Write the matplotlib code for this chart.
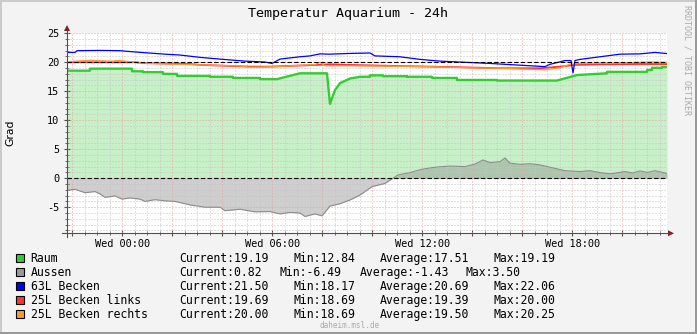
import matplotlib
matplotlib.use('Agg')
import matplotlib.pyplot as plt
import numpy as np
from matplotlib.patches import Polygon, Rectangle
from matplotlib.lines import Line2D
from matplotlib.ticker import MultipleLocator, FuncFormatter

# ---------------- data (hours relative to Wed 00:00) ----------------
t_raum = [-2.21, -1.29, -1.29, 0.39, 0.39, 0.83, 0.83, 1.63, 1.63, 2.19, 2.19, 3.51, 3.51,
          4.43, 4.43, 5.51, 5.51, 6.19, 7.11, 8.19, 8.31, 8.51, 8.71, 8.91, 9.11, 9.51,
          9.91, 9.91, 10.43, 10.43, 11.39, 11.39, 12.39, 12.39, 13.39, 13.39, 14.99, 14.99,
          17.39, 18.19, 19.39, 19.39, 20.99, 20.99, 21.19, 21.19, 21.59, 21.59, 21.79]
raum = [18.55, 18.55, 18.9, 18.9, 18.45, 18.45, 18.3, 18.3, 18.0, 18.0, 17.65, 17.65, 17.5,
        17.5, 17.3, 17.3, 17.1, 17.1, 18.1, 18.1, 12.84, 15.2, 16.4, 16.8, 17.2, 17.5,
        17.5, 17.75, 17.75, 17.6, 17.6, 17.5, 17.5, 17.3, 17.3, 16.95, 16.95, 16.85,
        16.85, 17.8, 18.1, 18.35, 18.35, 18.67, 18.67, 19.05, 19.05, 19.19, 19.19]

t_aussen = [-2.21, -1.89, -1.49, -1.09, -0.89, -0.69, -0.29, -0.01, 0.31, 0.71, 0.91, 1.31,
            1.71, 2.11, 2.71, 3.31, 3.91, 4.11, 4.71, 5.31, 5.91, 6.31, 6.71, 7.11, 7.31,
            7.71, 7.99, 8.31, 8.71, 9.11, 9.51, 9.99, 10.51, 11.03, 11.51, 11.99, 12.51,
            13.11, 13.71, 14.11, 14.43, 14.71, 15.11, 15.31, 15.51, 15.91, 16.31, 16.71,
            17.31, 17.71, 18.31, 18.71, 19.11, 19.51, 20.11, 20.41, 20.71, 21.01, 21.31, 21.79]
aussen = [-2.1, -1.9, -2.5, -2.3, -2.7, -3.3, -3.05, -3.6, -3.4, -3.6, -4.0, -3.7,
          -3.9, -4.0, -4.6, -5.0, -5.0, -5.6, -5.35, -5.8, -5.75, -6.15, -5.9, -6.0, -6.6,
          -6.15, -6.49, -4.8, -4.4, -3.75, -2.9, -1.45, -0.9, 0.57, 0.97, 1.55, 1.9,
          2.1, 2.0, 2.45, 3.15, 2.7, 2.85, 3.5, 2.6, 2.4, 2.5, 2.3,
          1.7, 1.3, 1.15, 1.3, 0.97, 0.75, 1.15, 0.9, 1.25, 1.0, 1.3, 0.82]

t_63l = [-2.21, -1.89, -1.81, -0.89, -0.09, 0.31, 0.91, 1.71, 2.31, 3.11, 3.91, 4.91,
         5.71, 5.99, 6.31, 7.11, 7.51, 7.91, 8.31, 8.91, 9.31, 9.91, 10.11, 11.11, 11.91,
         12.71, 13.71, 14.71, 15.91, 16.91, 17.11, 17.71, 17.95, 18.03, 18.11, 18.31,
         19.11, 19.91, 20.71, 21.31, 21.79]
becken63 = [21.7, 21.7, 22.0, 22.05, 22.0, 21.85, 21.65, 21.4, 21.25, 20.85, 20.55, 20.2,
            20.05, 19.8, 20.55, 20.95, 21.1, 21.45, 21.4, 21.5, 21.55, 21.6, 21.1, 20.95, 20.5,
            20.2, 20.0, 19.8, 19.5, 19.25, 19.65, 20.3, 20.3, 18.17, 20.3, 20.5,
            20.95, 21.4, 21.45, 21.7, 21.5]

t_links = [-2.21, -0.89, 0.51, 0.91, 2.71, 3.11, 5.11, 5.91, 6.51, 7.51, 8.31, 9.11,
           11.11, 12.31, 13.51, 15.11, 16.71, 17.51, 18.11, 19.11, 20.71, 21.79]
links = [20.0, 20.0, 20.0, 19.85, 19.7, 19.55, 19.25, 19.25, 19.35, 19.5, 19.65, 19.55,
         19.35, 19.25, 19.15, 18.97, 18.97, 19.25, 19.55, 19.65, 19.7, 19.69]

t_rechts = [-2.21, -1.29, -0.49, -0.09, 0.51, 1.11, 3.11, 4.71, 5.11, 6.11, 7.71, 7.91,
            8.11, 9.11, 12.31, 13.91, 15.11, 16.91, 17.51, 17.91, 18.31, 19.91, 21.11, 21.79]
rechts = [20.1, 20.35, 20.2, 20.3, 20.0, 19.8, 19.55, 19.35, 19.15, 19.25, 19.6, 20.0,
          19.4, 19.4, 19.25, 19.05, 18.97, 18.7, 19.05, 19.65, 19.8, 19.9, 20.05, 20.0]

legend_names = ["Raum", "Aussen", "63L Becken", "25L Becken links", "25L Becken rechts"]
legend_colors = ["#33cc33", "#999999", "#0000ff", "#ff3333", "#ff9933"]
stat_current = ["19.19", "0.82", "21.50", "19.69", "20.00"]
stat_min = ["12.84", "-6.49", "18.17", "18.69", "18.69"]
stat_avg = ["17.51", "-1.43", "20.69", "19.39", "19.50"]
stat_max = ["19.19", "3.50", "22.06", "20.00", "20.25"]

# ---------------- figure ----------------
W, H = 697, 334
fig = plt.figure(figsize=(W / 100, H / 100), dpi=100, facecolor='#f3f3f3')

def fx(px):
    return px / W

def fy(py):
    return 1 - py / H

# frame
fig.patches.append(Rectangle((0, fy(2)), 1, 2 / H, transform=fig.transFigure,
                             color='#cbcbcb', lw=0))
fig.patches.append(Rectangle((0, 0), 2 / W, 1, transform=fig.transFigure,
                             color='#cbcbcb', lw=0))
fig.patches.append(Rectangle((0, 0), 1, 2 / H, transform=fig.transFigure,
                             color='#999999', lw=0))
fig.patches.append(Rectangle((1 - 2 / W, 0), 2 / W, 1, transform=fig.transFigure,
                             color='#999999', lw=0))

ax = fig.add_axes([fx(67), fy(233.3), 600 / W, 200 / H])
ax.set_facecolor('white')
ax.set_xlim(-2.21, 21.79)
ax.set_ylim(-9.5, 25)
for s in ax.spines.values():
    s.set_visible(False)

# areas
ax.fill_between(t_raum, 0, raum, color='#c8f0c8', lw=0, zorder=1)
ax.fill_between(t_aussen, 0, aussen, color='#808080', alpha=0.38, lw=0, zorder=1.5)

# grid
minor_c = '#c4c4c4'
major_c = '#eaa0a0'
for h in np.arange(-2.0, 21.8, 0.5):
    if abs(h % 2) < 1e-9:
        ax.axvline(h, color=major_c, lw=0.72, ls=(0, (1, 2)), zorder=2)
    else:
        ax.axvline(h, color=minor_c, lw=0.72, ls=(0, (1, 2)), zorder=2)
for v in range(-9, 26):
    if v % 5 == 0:
        ax.axhline(v, color=major_c, lw=0.72, ls=(0, (1, 2)), zorder=2)
    else:
        ax.axhline(v, color=minor_c, lw=0.72, ls=(0, (1, 2)), zorder=2)

# lines
ax.plot(t_aussen, aussen, color='#8c8c8c', lw=0.8, zorder=3)
ax.plot(t_raum, raum, color='#33cc33', lw=1.7, zorder=3)
ax.plot(t_links, links, color='#ff3333', lw=1.3, zorder=3.1)
ax.plot(t_rechts, rechts, color='#ff9933', lw=0.9, zorder=3.2)
ax.plot(t_63l, becken63, color='#0000ff', lw=0.9, zorder=3.3)

ax.axhline(0, color='black', lw=0.8, ls=(0, (4, 2)), zorder=4)
ax.axhline(20, color='black', lw=0.8, ls=(0, (4, 2)), zorder=4)

# ticks
ax.xaxis.set_major_locator(MultipleLocator(2))
ax.xaxis.set_minor_locator(MultipleLocator(0.5))
ax.xaxis.set_major_formatter(FuncFormatter(
    lambda h, p: f"Wed {int(round(h)) % 24:02d}:00" if int(round(h)) % 6 == 0 else ""))
ax.yaxis.set_major_locator(MultipleLocator(5))
ax.yaxis.set_minor_locator(MultipleLocator(1))
ax.yaxis.set_major_formatter(FuncFormatter(lambda v, p: f"{int(v)}"))
ax.tick_params(which='major', direction='inout', length=5, width=0.8, color='#505050',
               labelsize=7.4, labelcolor='black')
ax.tick_params(which='minor', direction='inout', length=3, width=0.6, color='#505050')
ax.tick_params(axis='x', which='major', pad=1.5)
ax.tick_params(axis='y', which='major', pad=3)
for lab in ax.get_xticklabels() + ax.get_yticklabels():
    lab.set_family('DejaVu Sans Mono')

# axis lines with arrows
axis_c = '#505050'
fig.add_artist(Line2D([fx(67), fx(67)], [fy(237), fy(30)], color=axis_c, lw=0.8,
                      transform=fig.transFigure))
fig.add_artist(Line2D([fx(62), fx(670)], [fy(233.3), fy(233.3)], color=axis_c, lw=0.8,
                      transform=fig.transFigure))
arrow_c = '#7f1f1f'
fig.patches.append(Polygon([(fx(64), fy(31)), (fx(70), fy(31)), (fx(67), fy(25))],
                           closed=True, transform=fig.transFigure, color=arrow_c, lw=0))
fig.patches.append(Polygon([(fx(668), fy(230.3)), (fx(668), fy(236.3)), (fx(674), fy(233.3))],
                           closed=True, transform=fig.transFigure, color=arrow_c, lw=0))

# texts
fig.text(fx(347.5), fy(13), "Temperatur Aquarium - 24h", ha='center', va='center',
         family='DejaVu Sans Mono', fontsize=9.6, color='black')
fig.text(fx(10), fy(133), "Grad", rotation=90, ha='center', va='center',
         family='DejaVu Sans', fontsize=7.8, color='black')
fig.text(fx(687), fy(60), "RRDTOOL / TOBI OETIKER", rotation=270, ha='center', va='center',
         family='DejaVu Sans Mono', fontsize=6.0, color='#aaaaaa')
fig.text(fx(350), fy(325), "daheim.msl.de", ha='center', va='center',
         family='DejaVu Sans Mono', fontsize=5.5, color='#aaaaaa')

rows = [258.3, 272.3, 286.3, 300.3, 314.3]
fs = 8.3
for i, name in enumerate(legend_names):
    yc = rows[i]
    fig.patches.append(Rectangle((fx(15.5), fy(yc + 4)), 8 / W, 8 / H, transform=fig.transFigure,
                                 facecolor=legend_colors[i], edgecolor='black', lw=0.8))
    yb = fy(yc + 4)
    fig.text(fx(30.5), yb, name, family='DejaVu Sans Mono', fontsize=fs, va='baseline')
    fig.text(fx(179.3), yb, "Current:" + stat_current[i], family='DejaVu Sans Mono',
             fontsize=fs, va='baseline')
    if i == 1:
        xm, xa, xx = 279.3, 359.3, 465.0
    else:
        xm, xa, xx = 293.3, 380.0, 493.3
    fig.text(fx(xm), yb, "Min:" + stat_min[i], family='DejaVu Sans Mono', fontsize=fs,
             va='baseline')
    fig.text(fx(xa), yb, "Average:" + stat_avg[i], family='DejaVu Sans Mono', fontsize=fs,
             va='baseline')
    fig.text(fx(xx), yb, "Max:" + stat_max[i], family='DejaVu Sans Mono', fontsize=fs,
             va='baseline')

fig.savefig('out.png', dpi=100, facecolor=fig.get_facecolor())
